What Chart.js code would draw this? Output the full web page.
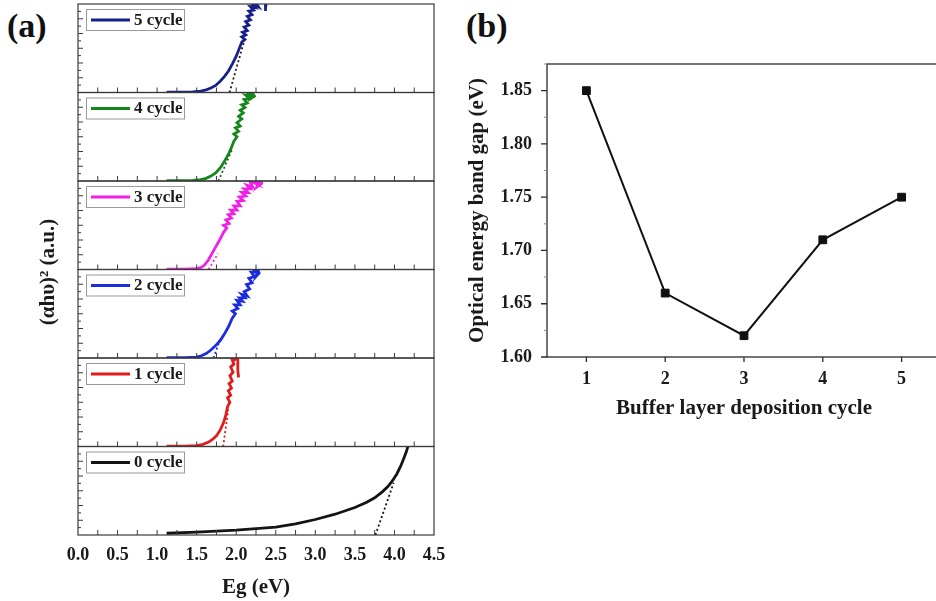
<!DOCTYPE html>
<html>
<head>
<meta charset="utf-8">
<script src="https://cdn.jsdelivr.net/npm/chart.js@4.4.1/dist/chart.umd.min.js"></script>
<style>
  html, body { margin: 0; padding: 0; background: #fff; }
  #page { position: relative; width: 936px; height: 601px; overflow: hidden; }
  #spectra { position: absolute; left: 0; top: 0; }
  #bandgap { position: absolute; left: 450px; top: 0; }
  .tag { position: absolute; font: bold 34px "Liberation Serif", serif; color: #111; line-height: 1; }
</style>
</head>
<body>
<div id="page">
  <div class="tag" style="left:7px;top:9px">(a)</div>
  <div class="tag" style="left:466px;top:9px">(b)</div>
  <canvas id="spectra" width="450" height="601"></canvas>
  <canvas id="bandgap" width="500" height="430"></canvas>
</div>
<script>
const SERIF = '"Liberation Serif", "Times New Roman", serif';
const INK = '#1a1a1a';

// (a) Tauc plots, one panel per deposition cycle (index 0 = bottom panel)
const cycleLabels = ['0 cycle', '1 cycle', '2 cycle', '3 cycle', '4 cycle', '5 cycle'];
const cycleColors = ['#141414', '#e01b1b', '#1a2be0', '#f020e6', '#16861c', '#16208c'];
const fitColors = ['#141414', '#e01b1b', '#1a2be0', '#f020e6', '#245c24', '#222222'];
const egTicks = [0, 0.5, 1.0, 1.5, 2.0, 2.5, 3.0, 3.5, 4.0, 4.5];

const eg0 = [1.12, 1.5, 2.0, 2.5, 2.75, 3.0, 3.25, 3.5, 3.65, 3.75, 3.85, 3.92, 3.98, 4.03, 4.08, 4.12, 4.15, 4.17];
const ah0 = [0.02, 0.033, 0.055, 0.09, 0.125, 0.175, 0.235, 0.31, 0.37, 0.42, 0.49, 0.55, 0.62, 0.69, 0.78, 0.87, 0.94, 1.0];

const eg1 = [1.12, 1.35, 1.5, 1.58, 1.65, 1.7, 1.75, 1.8, 1.84, 1.87, 1.89, 1.92, 1.89, 1.93, 1.9, 1.94, 1.91, 1.95, 1.92, 1.96, 1.93, 1.97, 1.94, 1.98, 2.0, 2.02, 2.02, 2.03];
const ah1 = [0.005, 0.005, 0.01, 0.025, 0.05, 0.08, 0.12, 0.19, 0.27, 0.36, 0.45, 0.5, 0.55, 0.58, 0.63, 0.66, 0.71, 0.74, 0.8, 0.84, 0.9, 0.93, 1.0, 0.98, 1.0, 0.98, 0.86, 0.78];

const eg2 = [1.12, 1.35, 1.5, 1.56, 1.62, 1.68, 1.74, 1.8, 1.85, 1.9, 1.95, 1.99, 1.95, 2.02, 1.98, 2.05, 2.01, 2.08, 2.04, 2.11, 2.07, 2.14, 2.1, 2.17, 2.13, 2.2, 2.16, 2.23, 2.19, 2.26, 2.22, 2.28, 2.25, 2.29, 2.27];
const ah2 = [0.005, 0.005, 0.01, 0.025, 0.05, 0.09, 0.14, 0.2, 0.27, 0.35, 0.45, 0.5, 0.53, 0.56, 0.6, 0.6, 0.65, 0.64, 0.68, 0.68, 0.72, 0.7, 0.75, 0.78, 0.83, 0.85, 0.9, 0.92, 0.97, 0.97, 1.0, 1.0, 0.92, 0.96, 1.0];

const eg3 = [1.12, 1.35, 1.5, 1.56, 1.6, 1.65, 1.7, 1.75, 1.8, 1.84, 1.88, 1.84, 1.91, 1.87, 1.94, 1.9, 1.97, 1.93, 2.01, 1.97, 2.05, 2.01, 2.09, 2.04, 2.12, 2.07, 2.15, 2.1, 2.18, 2.14, 2.21, 2.17, 2.25, 2.21, 2.29, 2.26, 2.32, 2.29, 2.34];
const ah3 = [0.005, 0.005, 0.01, 0.025, 0.05, 0.11, 0.19, 0.27, 0.35, 0.42, 0.47, 0.5, 0.52, 0.56, 0.58, 0.62, 0.63, 0.67, 0.67, 0.72, 0.72, 0.77, 0.78, 0.82, 0.83, 0.87, 0.87, 0.91, 0.91, 0.95, 0.93, 1.0, 0.97, 1.0, 0.98, 0.93, 0.97, 1.0, 1.0];

const eg4 = [1.12, 1.3, 1.45, 1.55, 1.62, 1.68, 1.74, 1.8, 1.85, 1.9, 1.94, 1.97, 2.01, 1.97, 2.03, 1.99, 2.05, 2.01, 2.07, 2.03, 2.09, 2.05, 2.11, 2.07, 2.14, 2.1, 2.17, 2.12, 2.19, 2.14, 2.21, 2.18, 2.23, 2.2];
const ah4 = [0.005, 0.005, 0.008, 0.015, 0.03, 0.055, 0.09, 0.15, 0.22, 0.3, 0.38, 0.45, 0.5, 0.53, 0.56, 0.6, 0.62, 0.66, 0.7, 0.73, 0.77, 0.8, 0.83, 0.86, 0.88, 0.92, 0.93, 0.97, 0.96, 1.0, 1.0, 0.93, 0.96, 1.0];

const eg5 = [1.12, 1.3, 1.45, 1.55, 1.62, 1.68, 1.74, 1.8, 1.85, 1.9, 1.95, 2.0, 2.04, 2.07, 2.11, 2.07, 2.12, 2.08, 2.14, 2.1, 2.16, 2.12, 2.18, 2.14, 2.2, 2.16, 2.22, 2.18, 2.24, 2.2, 2.26, 2.22, 2.28, 2.26, 2.3, 2.37, 2.37, 2.38];
const ah5 = [0.005, 0.005, 0.008, 0.015, 0.03, 0.05, 0.08, 0.13, 0.18, 0.24, 0.32, 0.41, 0.5, 0.57, 0.6, 0.63, 0.65, 0.68, 0.7, 0.74, 0.76, 0.8, 0.82, 0.86, 0.88, 0.92, 0.93, 0.97, 0.96, 1.0, 0.98, 1.0, 0.97, 1.0, null, 0.92, 1.0, 0.97];

// linear fits (dotted) used to read the band gap
const fitEg = [[3.76, 3.99], [1.835, 1.9], [1.713, 1.8], [1.65, 1.77], [1.775, 1.95], [1.915, 2.1]];
const fitAh = [[0, 0.59], [0, 0.42], [0, 0.22], [0, 0.18], [0, 0.36], [0, 0.58]];

// (b) band gap vs cycle
const cycles = [1, 2, 3, 4, 5];
const bandGaps = [1.85, 1.66, 1.62, 1.71, 1.75];
const gapTicks = [1.60, 1.65, 1.70, 1.75, 1.80, 1.85];

const egSets = [eg0, eg1, eg2, eg3, eg4, eg5];
const ahSets = [ah0, ah1, ah2, ah3, ah4, ah5];

const toPoints = (xs, ys) => xs.map((x, k) => ({ x, y: ys[k] }));

const spectraSets = [];
cycleLabels.forEach((label, i) => {
  spectraSets.push({
    label: label + ' fit',
    data: toPoints(fitEg[i], fitAh[i]),
    yAxisID: 'y' + i,
    borderColor: fitColors[i],
    borderWidth: 1.8,
    borderDash: [2, 2.5],
    pointRadius: 0
  });
  spectraSets.push({
    label,
    data: toPoints(egSets[i], ahSets[i]),
    yAxisID: 'y' + i,
    borderColor: cycleColors[i],
    borderWidth: 2.8,
    pointRadius: 0,
    tension: 0,
    spanGaps: false
  });
});

const spectraScales = {
  x: {
    type: 'linear',
    min: 0,
    max: 4.5,
    afterBuildTicks: s => { s.ticks = egTicks.map(v => ({ value: v })); },
    afterFit: s => { s.height = 66; },
    grid: { display: false },
    border: { display: false },
    ticks: {
      font: { family: SERIF, weight: 'bold', size: 18 },
      color: INK,
      padding: 2,
      maxRotation: 0,
      autoSkip: false,
      callback: v => v.toFixed(1)
    },
    title: {
      display: true,
      text: 'Eg (eV)',
      font: { family: SERIF, weight: 'bold', size: 21 },
      color: INK,
      padding: { top: 0, bottom: 1 }
    }
  }
};
cycleLabels.forEach((_, i) => {
  spectraScales['y' + i] = {
    type: 'linear',
    position: 'left',
    stack: 'panels',
    stackWeight: 1,
    min: 0,
    max: 1,
    grid: { display: false },
    border: { display: false },
    ticks: { display: false },
    afterFit: s => { s.width = 0; }
  };
});

// frames, inward ticks, per-panel legends and the shared y title
const panelFrames = {
  id: 'panelFrames',
  afterDatasetsDraw(chart) {
    const { ctx, chartArea: { left, right } } = chart;
    const xs = chart.scales.x;
    ctx.save();
    cycleLabels.forEach((label, i) => {
      const ys = chart.scales['y' + i];
      const top = ys.top, bottom = ys.bottom;
      ctx.strokeStyle = '#3a3a3a';
      ctx.lineWidth = 1.2;
      ctx.strokeRect(left, top, right - left, bottom - top);

      ctx.beginPath();
      for (let k = 1; k < 18; k++) {
        const px = xs.getPixelForValue(k * 0.25);
        ctx.moveTo(px, bottom);
        ctx.lineTo(px, bottom - 5);
      }
      for (let k = 1; k < 12; k++) {
        const py = ys.getPixelForValue(k / 12);
        ctx.moveTo(left, py);
        ctx.lineTo(left + (k % 2 ? 3 : 5), py);
      }
      ctx.lineWidth = 1;
      ctx.stroke();

      const lx = left + 8, ly = top + 5;
      ctx.fillStyle = '#fff';
      ctx.fillRect(lx, ly, 98, 21);
      ctx.strokeStyle = '#9a9a9a';
      ctx.strokeRect(lx + 0.5, ly + 0.5, 98, 21);
      ctx.beginPath();
      ctx.moveTo(lx + 5, ly + 11);
      ctx.lineTo(lx + 44, ly + 11);
      ctx.strokeStyle = cycleColors[i];
      ctx.lineWidth = 3;
      ctx.stroke();
      ctx.fillStyle = INK;
      ctx.font = 'bold 17px ' + SERIF;
      ctx.textBaseline = 'middle';
      ctx.textAlign = 'left';
      ctx.fillText(label, lx + 48, ly + 11.5);
    });

    ctx.translate(49, 272);
    ctx.rotate(-Math.PI / 2);
    ctx.textAlign = 'center';
    ctx.textBaseline = 'middle';
    ctx.font = 'bold 21px ' + SERIF;
    ctx.fillStyle = INK;
    ctx.fillText('(\u03b1h\u03c5)\u00b2 (a.u.)', 0, 0);
    ctx.restore();
  }
};

new Chart(document.getElementById('spectra'), {
  type: 'line',
  data: { datasets: spectraSets },
  options: {
    responsive: false,
    animation: false,
    layout: { padding: { top: 4, left: 78, right: 16, bottom: 0 } },
    plugins: { legend: { display: false }, tooltip: { enabled: false } },
    scales: spectraScales
  },
  plugins: [panelFrames]
});

// (b) frame with outward ticks
const gapFrame = {
  id: 'gapFrame',
  afterDatasetsDraw(chart) {
    const { ctx, chartArea: { left, right, top, bottom } } = chart;
    const xs = chart.scales.x, ys = chart.scales.y;
    ctx.save();
    ctx.strokeStyle = '#2a2a2a';
    ctx.lineWidth = 1.3;
    ctx.strokeRect(left, top, right - left, bottom - top);
    ctx.beginPath();
    gapTicks.forEach(v => {
      const py = ys.getPixelForValue(v);
      ctx.moveTo(left, py);
      ctx.lineTo(left - 6, py);
    });
    cycles.forEach(v => {
      const px = xs.getPixelForValue(v);
      ctx.moveTo(px, bottom);
      ctx.lineTo(px, bottom + 5);
    });
    ctx.stroke();
    ctx.beginPath();
    ctx.strokeStyle = '#8a8a8a';
    ctx.lineWidth = 1;
    gapTicks.forEach(v => {
      const py = ys.getPixelForValue(v + 0.025);
      ctx.moveTo(left, py);
      ctx.lineTo(left - 3, py);
    });
    ctx.stroke();
    ctx.restore();
  }
};

const boldTicks = { family: SERIF, weight: 'bold', size: 18 };

new Chart(document.getElementById('bandgap'), {
  type: 'line',
  data: {
    datasets: [{
      label: 'Band gap',
      data: toPoints(cycles, bandGaps),
      borderColor: '#111',
      borderWidth: 2,
      pointStyle: 'rect',
      pointRadius: 5.5,
      pointBackgroundColor: '#111',
      pointBorderColor: '#111',
      pointBorderWidth: 1,
      tension: 0
    }]
  },
  options: {
    responsive: false,
    animation: false,
    layout: { padding: { top: 64, right: 9, left: 0, bottom: 0 } },
    plugins: { legend: { display: false }, tooltip: { enabled: false } },
    scales: {
      x: {
        type: 'linear',
        min: 0.5,
        max: 5.5,
        afterBuildTicks: s => { s.ticks = cycles.map(v => ({ value: v })); },
        afterFit: s => { s.height = 73; },
        grid: { display: false },
        border: { display: false },
        ticks: { font: boldTicks, color: INK, padding: 4, maxRotation: 0, callback: v => String(v) },
        title: {
          display: true,
          text: 'Buffer layer deposition cycle',
          font: { family: SERIF, weight: 'bold', size: 21 },
          color: INK,
          padding: { top: 0, bottom: 9 }
        }
      },
      y: {
        type: 'linear',
        min: 1.6,
        max: 1.875,
        afterBuildTicks: s => { s.ticks = gapTicks.map(v => ({ value: v })); },
        afterFit: s => { s.width = 97; },
        grid: { display: false },
        border: { display: false },
        ticks: { font: boldTicks, color: INK, padding: 7, callback: v => v.toFixed(2) },
        title: {
          display: true,
          text: 'Optical energy band gap (eV)',
          font: { family: SERIF, weight: 'bold', size: 21 },
          color: INK,
          padding: { top: 15, bottom: 0 }
        }
      }
    }
  },
  plugins: [gapFrame]
});
</script>
</body>
</html>
